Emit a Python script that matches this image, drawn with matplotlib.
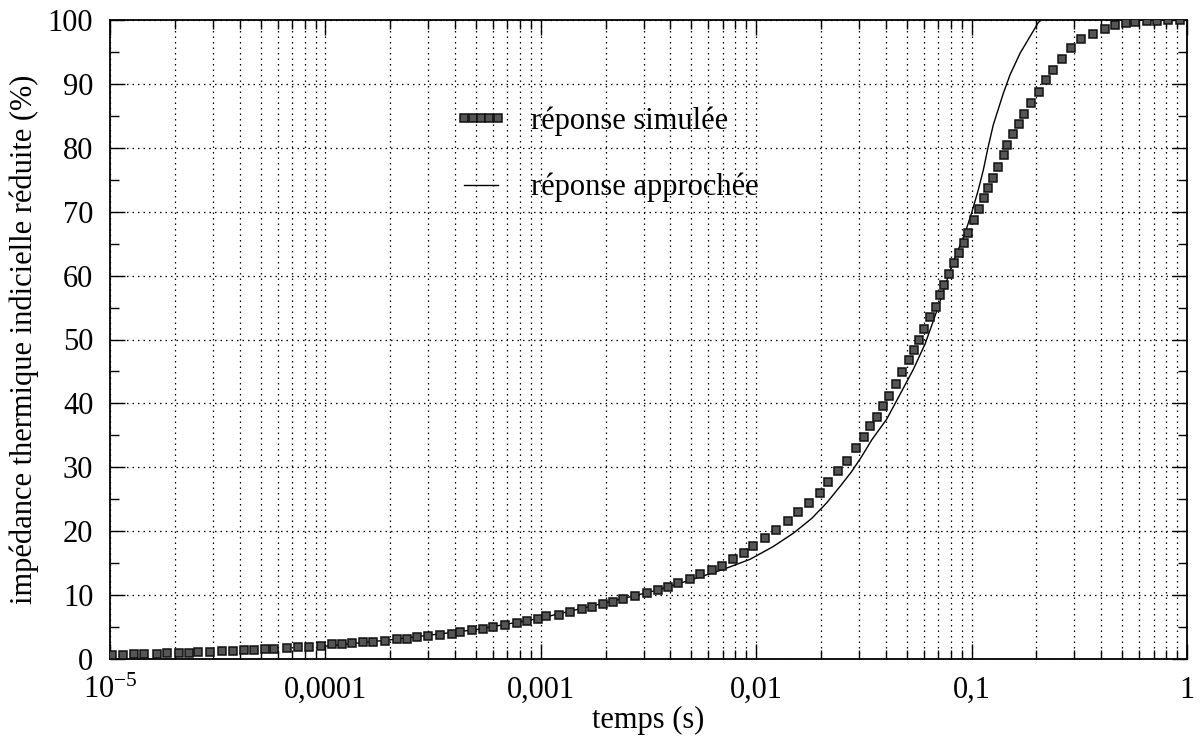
import matplotlib
matplotlib.use("Agg")
import matplotlib.pyplot as plt
from matplotlib.ticker import FixedLocator, LogLocator, NullFormatter

plt.rcParams['font.family'] = ['Liberation Serif', 'DejaVu Serif']
plt.rcParams['mathtext.fontset'] = 'custom'
plt.rcParams['mathtext.rm'] = 'Liberation Serif'

# réponse simulée (markers), temps en s / impédance en %
t_sim = [1.02e-5, 1.15e-5, 1.29e-5, 1.44e-5, 1.65e-5, 1.84e-5, 2.09e-5, 2.33e-5, 2.56e-5, 2.91e-5,
         3.31e-5, 3.72e-5, 4.19e-5, 4.66e-5, 5.24e-5, 5.77e-5, 6.63e-5, 7.46e-5, 8.39e-5, 9.55e-5,
         1.07e-4, 1.19e-4, 1.33e-4, 1.50e-4, 1.67e-4, 1.89e-4, 2.14e-4, 2.40e-4, 2.65e-4, 3.01e-4,
         3.40e-4, 3.86e-4, 4.22e-4, 4.78e-4, 5.37e-4, 6.02e-4, 6.82e-4, 7.73e-4, 8.61e-4, 9.73e-4,
         1.06e-3, 1.21e-3, 1.37e-3, 1.55e-3, 1.72e-3, 1.94e-3, 2.17e-3, 2.42e-3, 2.74e-3, 3.10e-3,
         3.51e-3, 3.91e-3, 4.35e-3, 4.93e-3, 5.48e-3, 6.21e-3, 6.92e-3, 7.78e-3, 8.77e-3, 9.70e-3,
         1.10e-2, 1.24e-2, 1.41e-2, 1.57e-2, 1.76e-2, 1.98e-2, 2.16e-2, 2.39e-2, 2.63e-2, 2.90e-2,
         3.16e-2, 3.37e-2, 3.62e-2, 3.89e-2, 4.15e-2, 4.44e-2, 4.77e-2, 5.12e-2, 5.42e-2, 5.72e-2,
         6.03e-2, 6.41e-2, 6.84e-2, 7.13e-2, 7.47e-2, 7.87e-2, 8.28e-2, 8.77e-2, 9.22e-2, 9.66e-2,
         0.1028, 0.1082, 0.1142, 0.1195, 0.1262, 0.1330, 0.1413, 0.1466, 0.1563, 0.1661,
         0.1751, 0.1881, 0.2049, 0.2215, 0.2380, 0.2637, 0.2893, 0.322, 0.365, 0.415,
         0.463, 0.521, 0.574, 0.650, 0.723, 0.819, 0.927]
z_sim = [0.7, 0.7, 0.75, 0.8, 0.85, 0.9, 0.95, 1.0, 1.05, 1.1,
         1.2, 1.25, 1.35, 1.4, 1.5, 1.6, 1.7, 1.8, 1.9, 2.0,
         2.3, 2.35, 2.55, 2.66, 2.71, 2.86, 3.08, 3.18, 3.4, 3.65,
         3.8, 3.96, 4.18, 4.49, 4.69, 5.0, 5.27, 5.63, 6.0, 6.3,
         6.73, 6.89, 7.4, 7.82, 8.18, 8.61, 8.97, 9.39, 9.91, 10.38,
         10.8, 11.31, 11.94, 12.52, 13.25, 13.93, 14.6, 15.6, 16.54, 17.68,
         18.89, 20.19, 21.6, 22.96, 24.46, 26.03, 27.75, 29.42, 31.03, 32.97,
         34.79, 36.46, 37.92, 39.59, 41.16, 42.99, 44.87, 46.79, 48.36, 49.92,
         51.6, 53.47, 55.13, 56.96, 58.53, 60.25, 61.92, 63.49, 65.15, 66.71,
         68.7, 70.38, 72.1, 73.66, 75.23, 77.04, 78.87, 80.44, 82.11, 83.68,
         85.29, 87.06, 88.78, 90.61, 92.17, 93.9, 95.57, 96.98, 97.81, 98.54,
         99.22, 99.58, 99.69, 99.9, 99.9, 99.95, 100.0]

# réponse approchée (trait continu)
t_app = [1e-4, 2e-4, 5e-4, 1e-3, 2e-3, 3.5e-3, 5e-3, 7e-3, 9.36e-3, 1.20e-2,
         1.49e-2, 1.81e-2, 2.12e-2, 2.45e-2, 2.77e-2, 3.09e-2, 3.44e-2, 4.03e-2, 4.65e-2, 5.36e-2,
         6.08e-2, 6.64e-2, 7.26e-2, 7.87e-2, 8.53e-2, 9.31e-2, 0.100, 0.1074, 0.1133, 0.1195,
         0.1261, 0.1403, 0.1507, 0.1679, 0.1866, 0.204, 0.210]
z_app = [2.0, 3.0, 4.6, 6.4, 8.8, 10.8, 12.4, 14.0, 15.6, 17.6,
         19.7, 22.0, 24.4, 27.0, 29.3, 31.7, 34.3, 37.5, 41.4, 45.3,
         49.3, 52.9, 56.7, 60.4, 63.5, 66.6, 69.8, 73.4, 76.5, 80.2,
         83.6, 88.5, 91.4, 94.8, 97.4, 99.6, 100.0]

x_ticks = [1e-5, 1e-4, 1e-3, 1e-2, 1e-1, 1]
x_labels = [r'$\mathregular{10^{-5}}$', '0,0001', '0,001', '0,01', '0,1', '1']
y_ticks = list(range(0, 101, 10))

fig = plt.figure(figsize=(12, 7.42), dpi=100)
ax = fig.add_axes([110 / 1200, 1 - 659 / 742, 1077 / 1200, 639 / 742])

ax.plot(t_sim, z_sim, linestyle='none', marker='s', markersize=5.2,
        markerfacecolor='#555555', markeredgecolor='#111111', markeredgewidth=1.1,
        label='réponse simulée', zorder=4)
ax.plot(t_app, z_app, color='black', linewidth=1.0, label='réponse approchée', zorder=3)

ax.set_xscale('log')
ax.set_xlim(1e-5, 1)
ax.set_ylim(0, 100)
ax.xaxis.set_major_locator(FixedLocator(x_ticks))
ax.set_xticklabels(x_labels)
ax.xaxis.set_minor_locator(LogLocator(base=10, subs=range(2, 10), numticks=20))
ax.xaxis.set_minor_formatter(NullFormatter())
ax.set_yticks(y_ticks)
ax.yaxis.set_minor_locator(FixedLocator(list(range(5, 100, 10))))

dots = (0, (1.2, 3.2))
ax.grid(True, which='major', axis='both', color='black', linestyle=dots, linewidth=0.9)
ax.grid(True, which='minor', axis='x', color='black', linestyle=dots, linewidth=0.9)

ax.tick_params(which='both', direction='in', top=True, right=True, labelsize=22, width=1.0)
ax.tick_params(which='major', length=11)
ax.tick_params(which='minor', length=6.5)
ax.tick_params(axis='x', pad=12)
ax.tick_params(axis='y', pad=12)
for sp in ax.spines.values():
    sp.set_linewidth(1.3)

ax.set_xlabel('temps (s)', fontsize=22, labelpad=1)
ax.set_ylabel('impédance thermique indicielle réduite (%)', fontsize=22, labelpad=6)

ax.legend(loc='upper left', bbox_to_anchor=(455 / 1200, 1 - 106 / 742), bbox_transform=fig.transFigure,
          frameon=False, fontsize=22, numpoints=5, handlelength=1.7, handletextpad=0.8,
          labelspacing=1.22, borderpad=0, borderaxespad=0)

fig.savefig('out.png', dpi=100)
